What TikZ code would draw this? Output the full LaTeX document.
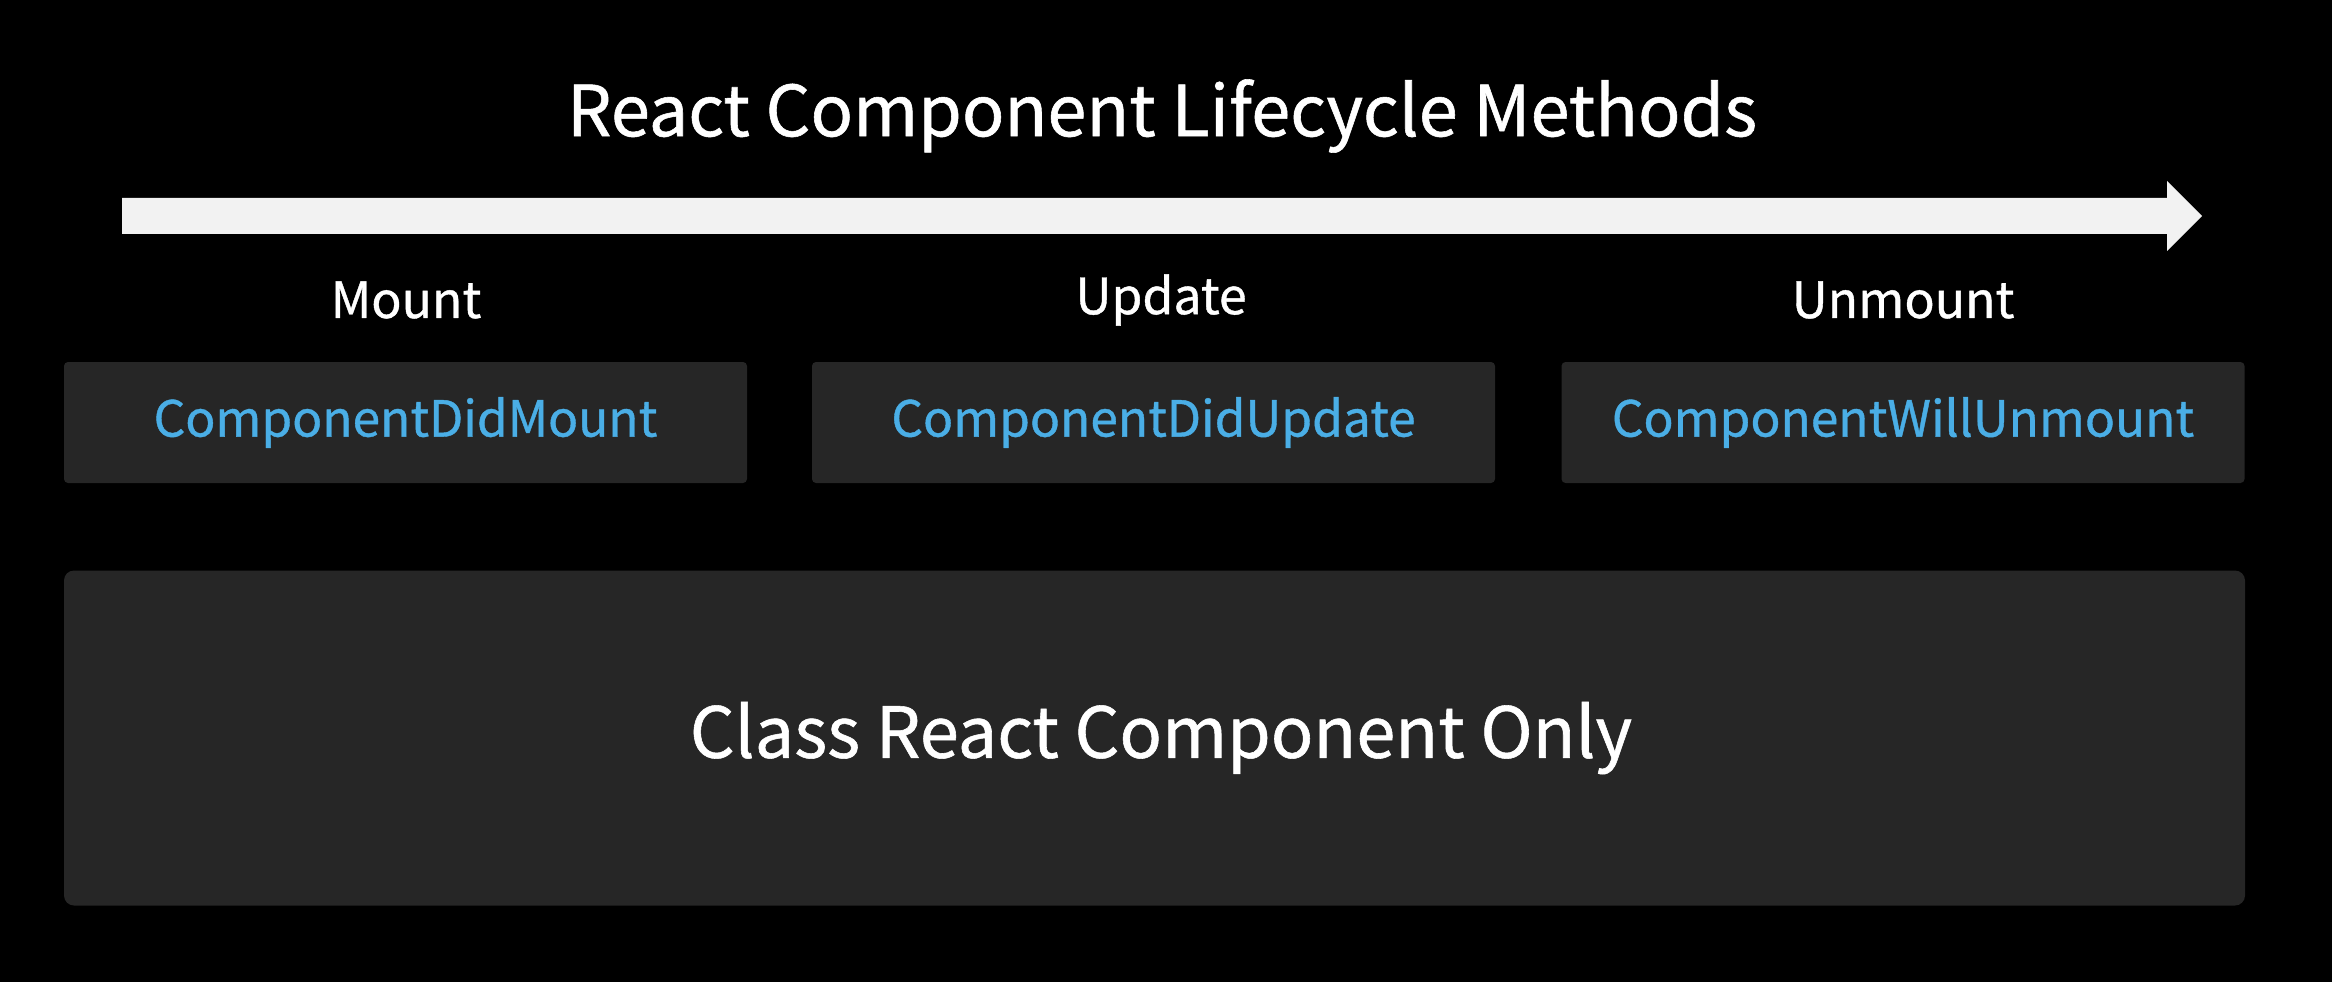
\documentclass[tikz,border=0pt]{standalone}
\usepackage{fontspec}
\newfontfamily\uifont{Noto Sans CJK SC}
\newfontfamily\uifontmed[FakeBold=0.8]{Noto Sans CJK SC}
\definecolor{boxgray}{HTML}{262626}
\definecolor{arrowwhite}{HTML}{F2F2F2}
\definecolor{methodblue}{HTML}{4AAEE6}
\begin{document}
\begin{tikzpicture}[x=0.3pt,y=-0.3pt,
  phasebox/.style={fill=boxgray, rounded corners=1.2pt, minimum width=204.9pt, minimum height=36.3pt, inner sep=0pt, text=methodblue, font=\uifontmed\fontsize{14.9}{18}\selectfont},
  phaselabel/.style={text=white, inner sep=0pt, font=\uifontmed\fontsize{15}{18}\selectfont},
  bigbox/.style={fill=boxgray, rounded corners=3pt, minimum width=654.3pt, minimum height=100.5pt, inner sep=0pt},
  bigtext/.style={text=white, inner sep=0pt, font=\uifontmed\fontsize{21.1}{26}\selectfont}]
\fill[black] (0,0) rectangle (2332,982);
\useasboundingbox (0,0) rectangle (2332,982);
\node[text=white, inner sep=0pt, font=\uifontmed\fontsize{21.1}{26}\selectfont] (title) at (1162,116) {React Component Lifecycle Methods};
\fill[arrowwhite] (122,198) -- (2167,198) -- (2167,181) -- (2202,216) -- (2167,251) -- (2167,234) -- (122,234) -- cycle;
\node[phaselabel] (mount) at (406,300) {Mount};
\node[phaselabel] (update) at (1161,300) {Update};
\node[phaselabel] (unmount) at (1903,300) {Unmount};
\node[phasebox] (didmount) at (405.5,422.5) {ComponentDidMount};
\node[phasebox] (didupdate) at (1153.5,422.5) {ComponentDidUpdate};
\node[phasebox] (willunmount) at (1903,422.5) {ComponentWillUnmount};
\node[bigbox] (classonly) at (1154.5,738) {};
\node[bigtext] (classtext) at (1161,738) {Class React Component Only};
\end{tikzpicture}
\end{document}
